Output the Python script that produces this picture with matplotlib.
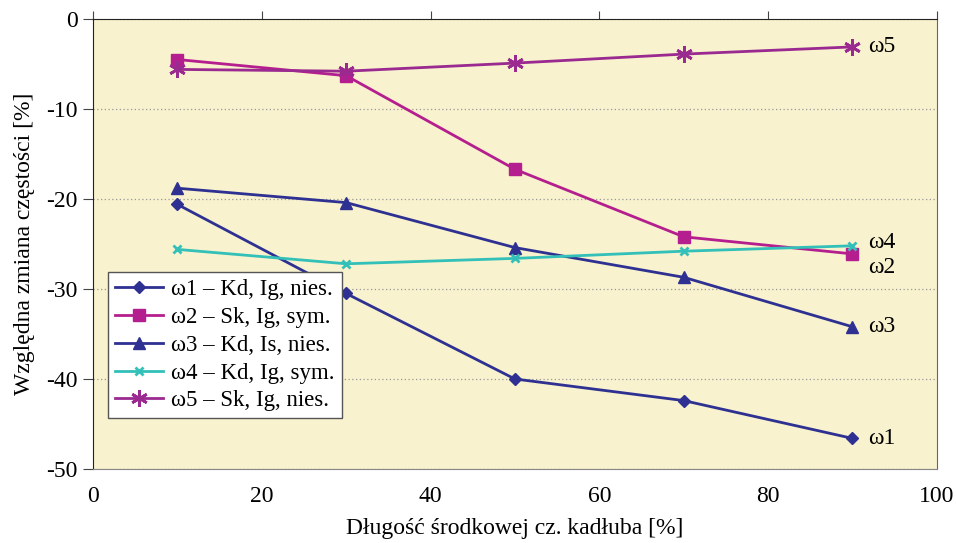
import matplotlib.pyplot as plt

# --- data ---
x = [10, 30, 50, 70, 90]
w1 = [-20.6, -30.5, -40.0, -42.4, -46.6]
w2 = [-4.5, -6.3, -16.7, -24.2, -26.1]
w3 = [-18.8, -20.4, -25.4, -28.7, -34.2]
w4 = [-25.6, -27.2, -26.6, -25.8, -25.2]
w5 = [-5.6, -5.8, -4.9, -3.9, -3.1]

labels = ['ω1 – Kd, Ig, nies.', 'ω2 – Sk, Ig, sym.', 'ω3 – Kd, Is, nies.',
          'ω4 – Kd, Ig, sym.', 'ω5 – Sk, Ig, nies.']
end_labels = ['ω1', 'ω2', 'ω3', 'ω4', 'ω5']

plt.rcParams['font.family'] = ['Liberation Serif', 'DejaVu Serif']

fig = plt.figure(figsize=(9.56, 5.43), dpi=100)
ax = fig.add_axes([0.0973, 0.1363, 0.8827, 0.8287])
ax.set_facecolor('#F8F2CE')

navy = '#2E3192'
magenta = '#B51E8E'
cyan = '#33C0B8'
purple = '#9A2A90'

series = [
    (w1, navy, 'D', 6),
    (w2, magenta, 's', 8),
    (w3, navy, '^', 9),
    (w4, cyan, 'x', 6),
    (w5, purple, (6, 2, 0), 12),
]
for (ys, c, m, ms), lab in zip(series, labels):
    ax.plot(x, ys, color=c, marker=m, markersize=ms, lw=2.0,
            markeredgewidth=2.0 if m in ('x', (6, 2, 0)) else 1, label=lab)

# end labels next to the last points
offsets = [0, -1.5, 0, 0.4, 0]
for ys, lab, off in zip([w1, w2, w3, w4, w5], end_labels, offsets):
    ax.text(x[-1] + 1.8, ys[-1] + off, lab, fontsize=17, va='center', ha='left')

ax.set_xlim(0, 100)
ax.set_ylim(-50, 0)
ax.set_xticks(range(0, 101, 20))
ax.set_yticks(range(-50, 1, 10))
ax.set_yticklabels([str(v) if v == 0 else '-%d' % -v for v in range(-50, 1, 10)])
ax.yaxis.grid(True, linestyle=(0, (1, 2)), color='#999999', lw=0.9)
ax.tick_params(axis='both', labelsize=17, direction='out', color='#444444')
ax.tick_params(axis='y', length=7, pad=4)
ax.tick_params(axis='x', top=True, bottom=True, length=0, pad=12)
for t in ax.xaxis.get_major_ticks():
    t.tick2line.set_markersize(6)
ax.spines['top'].set_color('#222222')
ax.spines['left'].set_color('#222222')
ax.spines['right'].set_color('#666666')
ax.spines['bottom'].set_color('#888888')
ax.spines['bottom'].set_linestyle((0, (1, 0.5)))

ax.set_xlabel('Długość środkowej cz. kadłuba [%]', fontsize=17, labelpad=8)
ax.set_ylabel('Względna zmiana częstości [%]', fontsize=17, labelpad=8)

leg = ax.legend(loc='upper left', bbox_to_anchor=(0.018, 0.438), fontsize=16.5,
                fancybox=False, framealpha=1, edgecolor='#555555',
                handlelength=2.1, borderpad=0.3, labelspacing=0.3,
                handletextpad=0.35, borderaxespad=0)
leg.get_frame().set_linewidth(1.0)

fig.savefig('out.png', dpi=100)
